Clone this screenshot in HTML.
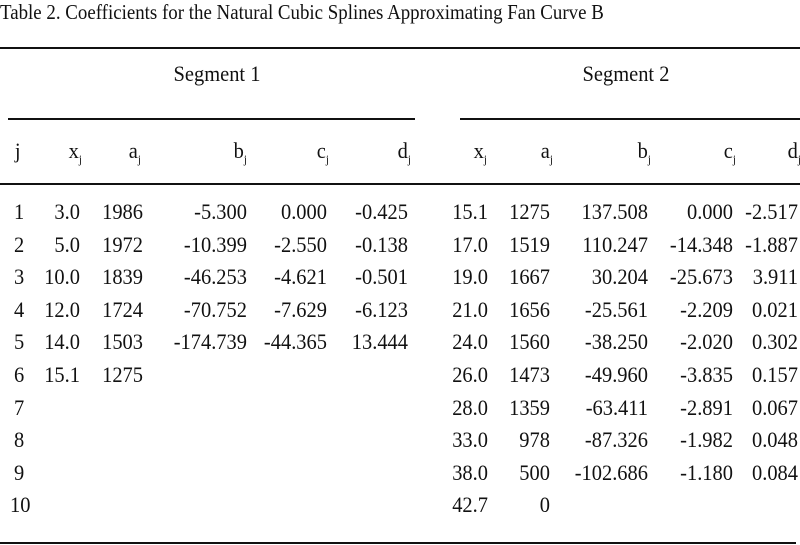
<!DOCTYPE html>
<html><head><meta charset="utf-8"><style>
body{margin:0;background:#fff}
svg{display:block}
text{font-family:"Liberation Serif",serif;font-size:22px;fill:#111}
.r{text-anchor:end;transform-box:fill-box;transform-origin:right;transform:scaleX(.93)}
.l{transform-box:fill-box;transform-origin:left;transform:scaleX(.93)}
.m{text-anchor:middle;transform-box:fill-box;transform-origin:center;transform:scaleX(.93)}
.s{font-size:12px}
line{stroke:#111;stroke-width:2}
</style></head><body>
<svg width="800" height="545" xmlns="http://www.w3.org/2000/svg">
<text x="0" y="19" style="font-size:21px;transform-box:fill-box;transform-origin:left;transform:scaleX(.9)">Table 2.  Coefficients for the Natural Cubic Splines Approximating Fan Curve B</text>
<line x1="0" y1="48" x2="800" y2="48"/>
<text class="m" x="217" y="81">Segment 1</text>
<text class="m" x="626" y="81">Segment 2</text>
<line x1="8" y1="119" x2="415" y2="119"/>
<line x1="460" y1="119" x2="800" y2="119"/>
<line x1="0" y1="184" x2="800" y2="184"/>
<line x1="0" y1="543" x2="796" y2="543"/>
<g>
<text class="l" x="15" y="158">j</text>
<text class="r" x="82" y="158">x<tspan class="s" dy="5">j</tspan></text>
<text class="r" x="141" y="158">a<tspan class="s" dy="5">j</tspan></text>
<text class="r" x="247" y="158">b<tspan class="s" dy="5">j</tspan></text>
<text class="r" x="329" y="158">c<tspan class="s" dy="5">j</tspan></text>
<text class="r" x="411" y="158">d<tspan class="s" dy="5">j</tspan></text>
<text class="r" x="487" y="158">x<tspan class="s" dy="5">j</tspan></text>
<text class="r" x="553" y="158">a<tspan class="s" dy="5">j</tspan></text>
<text class="r" x="651" y="158">b<tspan class="s" dy="5">j</tspan></text>
<text class="r" x="736" y="158">c<tspan class="s" dy="5">j</tspan></text>
<text class="r" x="801" y="158">d<tspan class="s" dy="5">j</tspan></text>
</g>
<g>
<text class="l" x="14" y="219">1</text><text class="r" x="80" y="219">3.0</text><text class="r" x="143" y="219">1986</text><text class="r" x="247" y="219">-5.300</text><text class="r" x="327" y="219">0.000</text><text class="r" x="408" y="219">-0.425</text>
<text class="r" x="488" y="219">15.1</text><text class="r" x="550" y="219">1275</text><text class="r" x="648" y="219">137.508</text><text class="r" x="733" y="219">0.000</text><text class="r" x="798" y="219">-2.517</text>

<text class="l" x="14" y="252">2</text><text class="r" x="80" y="252">5.0</text><text class="r" x="143" y="252">1972</text><text class="r" x="247" y="252">-10.399</text><text class="r" x="327" y="252">-2.550</text><text class="r" x="408" y="252">-0.138</text>
<text class="r" x="488" y="252">17.0</text><text class="r" x="550" y="252">1519</text><text class="r" x="648" y="252">110.247</text><text class="r" x="733" y="252">-14.348</text><text class="r" x="798" y="252">-1.887</text>

<text class="l" x="14" y="284">3</text><text class="r" x="80" y="284">10.0</text><text class="r" x="143" y="284">1839</text><text class="r" x="247" y="284">-46.253</text><text class="r" x="327" y="284">-4.621</text><text class="r" x="408" y="284">-0.501</text>
<text class="r" x="488" y="284">19.0</text><text class="r" x="550" y="284">1667</text><text class="r" x="648" y="284">30.204</text><text class="r" x="733" y="284">-25.673</text><text class="r" x="798" y="284">3.911</text>

<text class="l" x="14" y="317">4</text><text class="r" x="80" y="317">12.0</text><text class="r" x="143" y="317">1724</text><text class="r" x="247" y="317">-70.752</text><text class="r" x="327" y="317">-7.629</text><text class="r" x="408" y="317">-6.123</text>
<text class="r" x="488" y="317">21.0</text><text class="r" x="550" y="317">1656</text><text class="r" x="648" y="317">-25.561</text><text class="r" x="733" y="317">-2.209</text><text class="r" x="798" y="317">0.021</text>

<text class="l" x="14" y="349">5</text><text class="r" x="80" y="349">14.0</text><text class="r" x="143" y="349">1503</text><text class="r" x="247" y="349">-174.739</text><text class="r" x="327" y="349">-44.365</text><text class="r" x="408" y="349">13.444</text>
<text class="r" x="488" y="349">24.0</text><text class="r" x="550" y="349">1560</text><text class="r" x="648" y="349">-38.250</text><text class="r" x="733" y="349">-2.020</text><text class="r" x="798" y="349">0.302</text>

<text class="l" x="14" y="382">6</text><text class="r" x="80" y="382">15.1</text><text class="r" x="143" y="382">1275</text>
<text class="r" x="488" y="382">26.0</text><text class="r" x="550" y="382">1473</text><text class="r" x="648" y="382">-49.960</text><text class="r" x="733" y="382">-3.835</text><text class="r" x="798" y="382">0.157</text>

<text class="l" x="14" y="415">7</text>
<text class="r" x="488" y="415">28.0</text><text class="r" x="550" y="415">1359</text><text class="r" x="648" y="415">-63.411</text><text class="r" x="733" y="415">-2.891</text><text class="r" x="798" y="415">0.067</text>

<text class="l" x="14" y="447">8</text>
<text class="r" x="488" y="447">33.0</text><text class="r" x="550" y="447">978</text><text class="r" x="648" y="447">-87.326</text><text class="r" x="733" y="447">-1.982</text><text class="r" x="798" y="447">0.048</text>

<text class="l" x="14" y="480">9</text>
<text class="r" x="488" y="480">38.0</text><text class="r" x="550" y="480">500</text><text class="r" x="648" y="480">-102.686</text><text class="r" x="733" y="480">-1.180</text><text class="r" x="798" y="480">0.084</text>

<text class="l" x="10" y="512">10</text>
<text class="r" x="488" y="512">42.7</text><text class="r" x="550" y="512">0</text>
</g>
</svg>
</body></html>
